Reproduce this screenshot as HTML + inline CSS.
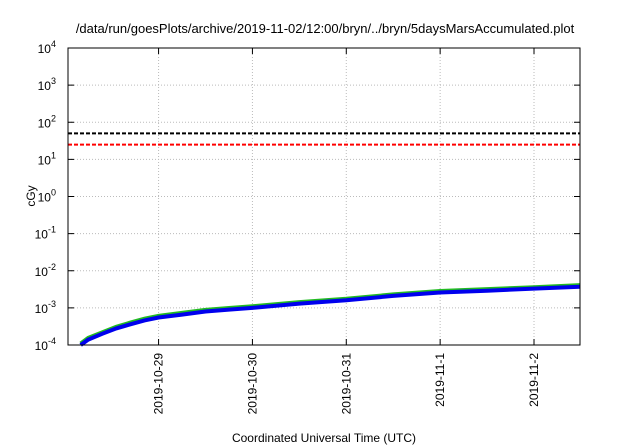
<!DOCTYPE html>
<html><head><meta charset="utf-8"><style>
body{margin:0;background:#fff;}
svg{display:block;font-family:"Liberation Sans",sans-serif;}
</style></head><body>
<svg id="chart" width="640" height="448" viewBox="0 0 640 448">
<text x="325" y="33" font-size="13" text-anchor="middle">/data/run/goesPlots/archive/2019-11-02/12:00/bryn/../bryn/5daysMarsAccumulated.plot</text>
<g id="grid"></g>
<g id="axes"></g>
<g id="series"></g>
<rect x="68" y="48" width="512" height="297" fill="none" stroke="#000" stroke-width="1"/>
<text x="0" y="0" font-size="12" text-anchor="middle" transform="translate(35,196) rotate(-90)">cGy</text>
<text x="324" y="442" font-size="12" text-anchor="middle">Coordinated Universal Time (UTC)</text>
</svg>
<script>
const yTickExps=[-4,-3,-2,-1,0,1,2,3,4];
const xTickDays=[1,2,3,4,5];
const xTickLabels=["2019-10-29","2019-10-30","2019-10-31","2019-11-1","2019-11-2"];
const times=[0.17,0.25,0.4,0.55,0.7,0.85,1.0,1.25,1.5,1.75,2.0,2.5,3.0,3.5,4.0,4.5,5.0,5.49];
const blueVals=[1e-4,1.4e-4,2.0e-4,2.8e-4,3.6e-4,4.6e-4,5.5e-4,6.6e-4,8.0e-4,9.0e-4,1.0e-3,1.3e-3,1.6e-3,2.1e-3,2.6e-3,2.9e-3,3.3e-3,3.7e-3];
const greenVals=[1.1e-4,1.55e-4,2.2e-4,3.1e-4,4.0e-4,5.1e-4,6.1e-4,7.3e-4,8.8e-4,9.9e-4,1.1e-3,1.43e-3,1.76e-3,2.3e-3,2.85e-3,3.2e-3,3.6e-3,4.1e-3];
const limitBlack=50, limitRed=25;
const L=68,R=580,T=48,B=345;
const t0=1-90.7/94, t1=5.49;
function x(t){return L+(t-t0)/(t1-t0)*(R-L);}
function y(v){return B-(Math.log10(v)+4)/8*(B-T);}
const NS="http://www.w3.org/2000/svg";
function mk(tag,attrs,parent){const e=document.createElementNS(NS,tag);for(const k in attrs)e.setAttribute(k,attrs[k]);parent.appendChild(e);return e;}
const grid=document.getElementById('grid'),axes=document.getElementById('axes'),series=document.getElementById('series');
yTickExps.forEach(e=>{const yy=y(Math.pow(10,e));
 if(e>-4&&e<4){const g=mk('line',{x1:L,x2:R,y1:yy,y2:yy,stroke:'#bbb','stroke-dasharray':'1,2'},grid);}
 const tk=mk('path',{d:`M${L},${yy}h6M${R},${yy}h-6`,stroke:'#000'},axes);
 const t=mk('text',{x:L-22,y:yy+5,'font-size':12,'text-anchor':'end'},axes);
 t.textContent='10';const s=mk('tspan',{dy:-6,'font-size':9},t);s.textContent=String(e);
 t.setAttribute('x',L-12);t.setAttribute('text-anchor','end');
});
xTickDays.forEach((d,i)=>{const xx=x(d);
 const g=mk('line',{x1:xx,x2:xx,y1:T,y2:B,stroke:'#bbb','stroke-dasharray':'1,2'},grid);
 const tk=mk('path',{d:`M${xx},${B}v-6M${xx},${T}v6`,stroke:'#000'},axes);
 const t=mk('text',{x:0,y:0,'font-size':12,'text-anchor':'end',transform:`translate(${xx+4},${B+8}) rotate(-90)`},axes);t.textContent=xTickLabels[i];
});
let l1=mk('line',{x1:L,x2:R,y1:y(limitBlack),y2:y(limitBlack),stroke:'#000','stroke-width':2,'stroke-dasharray':'4,2'},series);

let l2=mk('line',{x1:L,x2:R,y1:y(limitRed),y2:y(limitRed),stroke:'#f00','stroke-width':2,'stroke-dasharray':'4,2'},series);

function pts(vals){return times.map((t,i)=>x(t).toFixed(1)+','+y(vals[i]).toFixed(1)).join(' ');}
let gl=mk('polyline',{points:pts(greenVals),fill:'none',stroke:'#22bb22','stroke-width':4},series);

let bl=mk('polyline',{points:pts(blueVals),fill:'none',stroke:'#0000ee','stroke-width':4},series);

</script>
</body></html>
